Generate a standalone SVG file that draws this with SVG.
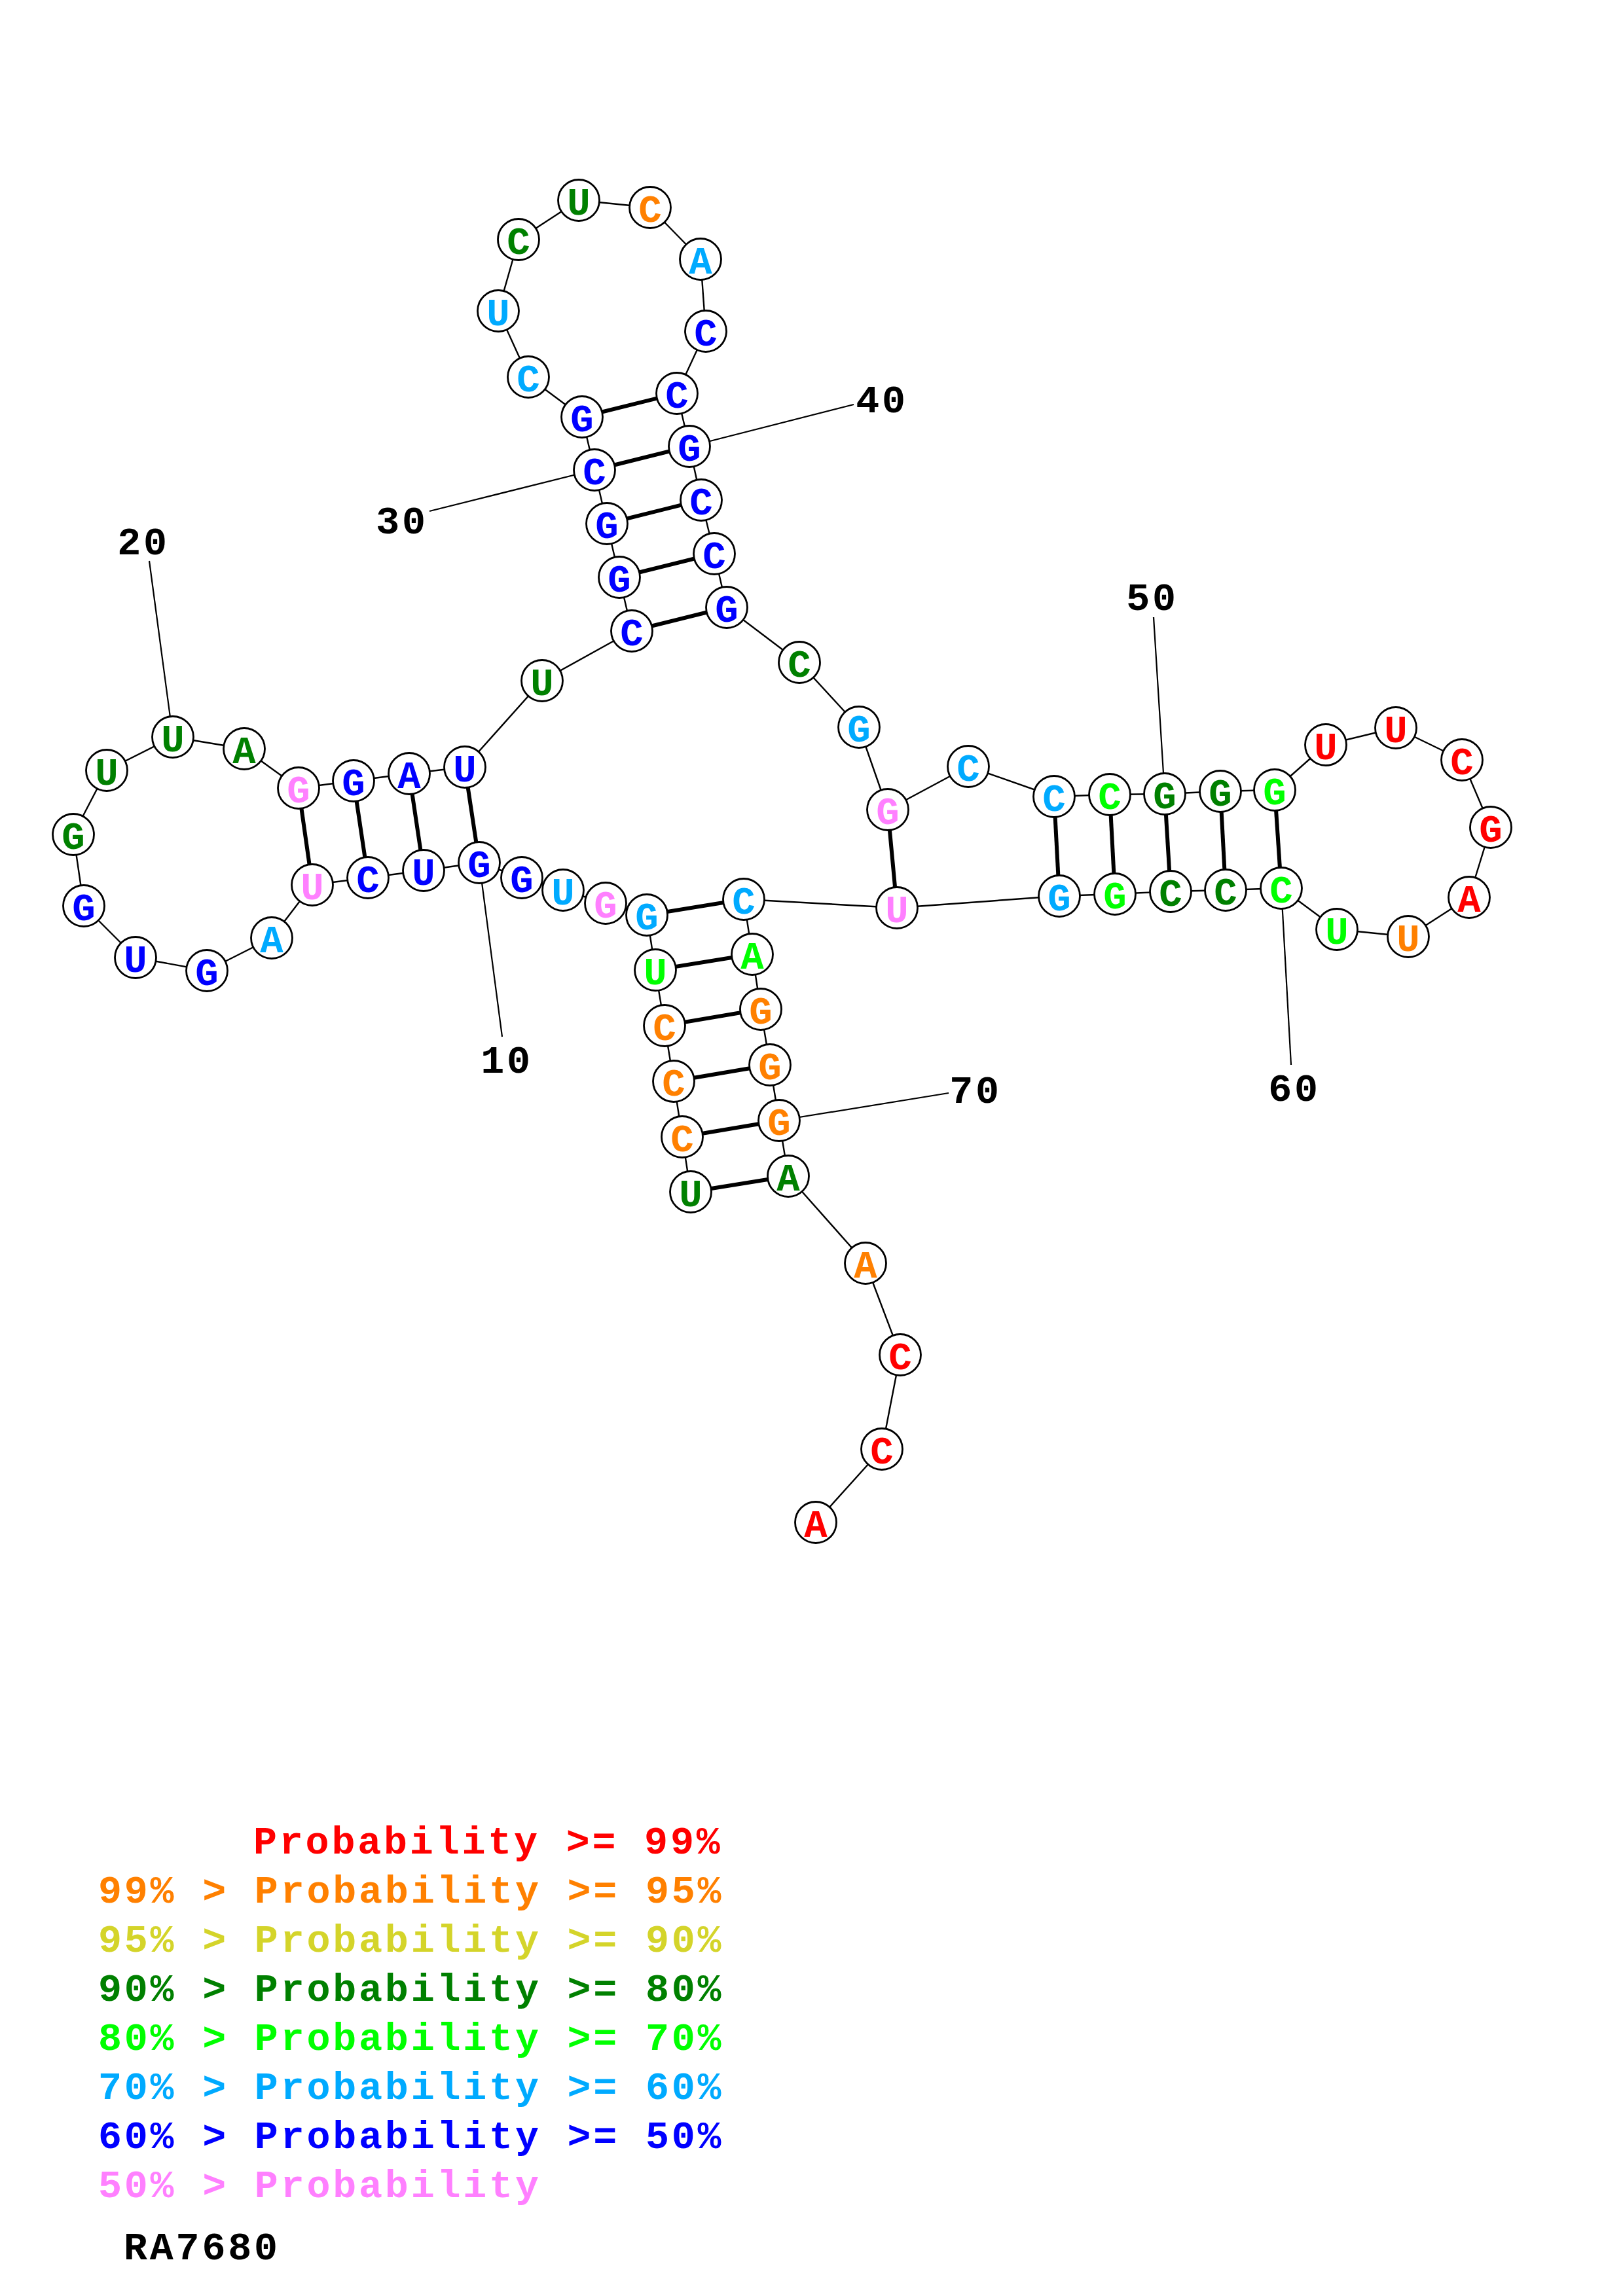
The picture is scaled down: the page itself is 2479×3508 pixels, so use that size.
<svg xmlns="http://www.w3.org/2000/svg" width="2479" height="3508" viewBox="0 0 2479 3508">
<style>
.bb{stroke:#000;stroke-width:2.4}
.bp{stroke:#000;stroke-width:6}
.tk{stroke:#000;stroke-width:2.2}
circle{fill:#fff;stroke:#000;stroke-width:2.8}
text{font-family:"Liberation Mono","DejaVu Sans Mono",monospace;font-weight:bold}
.n text{font-size:59px;text-anchor:middle}
.num{font-size:60px;letter-spacing:3.8px;text-anchor:middle;fill:#000}
.lg{font-size:60px;letter-spacing:3.8px}
.r{fill:#ff0000}.o{fill:#ff8000}.y{fill:#d4d42a}.dg{fill:#008000}.g{fill:#00ff00}.s{fill:#00aaff}.bl{fill:#0000ff}.p{fill:#ff80ff}
</style>
<rect width="2479" height="3508" fill="#fff"/>
<g id="connectors">
<line class="bb" x1="1055" y1="1821" x2="1042" y2="1737"/>
<line class="bb" x1="1042" y1="1737" x2="1029" y2="1652"/>
<line class="bb" x1="1029" y1="1652" x2="1015" y2="1567"/>
<line class="bb" x1="1015" y1="1567" x2="1001" y2="1482"/>
<line class="bb" x1="1001" y1="1482" x2="988" y2="1398"/>
<line class="bb" x1="988" y1="1398" x2="925" y2="1380"/>
<line class="bb" x1="925" y1="1380" x2="860" y2="1360"/>
<line class="bb" x1="860" y1="1360" x2="797" y2="1341"/>
<line class="bb" x1="797" y1="1341" x2="732" y2="1318"/>
<line class="bb" x1="732" y1="1318" x2="647" y2="1330"/>
<line class="bb" x1="647" y1="1330" x2="562" y2="1341"/>
<line class="bb" x1="562" y1="1341" x2="477" y2="1352"/>
<line class="bb" x1="477" y1="1352" x2="415" y2="1433"/>
<line class="bb" x1="415" y1="1433" x2="316" y2="1483"/>
<line class="bb" x1="316" y1="1483" x2="207" y2="1463"/>
<line class="bb" x1="207" y1="1463" x2="128" y2="1384"/>
<line class="bb" x1="128" y1="1384" x2="112" y2="1275"/>
<line class="bb" x1="112" y1="1275" x2="163" y2="1177"/>
<line class="bb" x1="163" y1="1177" x2="264" y2="1126"/>
<line class="bb" x1="264" y1="1126" x2="373" y2="1144"/>
<line class="bb" x1="373" y1="1144" x2="456" y2="1204"/>
<line class="bb" x1="456" y1="1204" x2="540" y2="1193"/>
<line class="bb" x1="540" y1="1193" x2="625" y2="1182"/>
<line class="bb" x1="625" y1="1182" x2="710" y2="1172"/>
<line class="bb" x1="710" y1="1172" x2="828" y2="1040"/>
<line class="bb" x1="828" y1="1040" x2="965" y2="964"/>
<line class="bb" x1="965" y1="964" x2="946" y2="882"/>
<line class="bb" x1="946" y1="882" x2="927" y2="800"/>
<line class="bb" x1="927" y1="800" x2="908" y2="718"/>
<line class="bb" x1="908" y1="718" x2="889" y2="637"/>
<line class="bb" x1="889" y1="637" x2="807" y2="576"/>
<line class="bb" x1="807" y1="576" x2="761" y2="475"/>
<line class="bb" x1="761" y1="475" x2="792" y2="366"/>
<line class="bb" x1="792" y1="366" x2="884" y2="306"/>
<line class="bb" x1="884" y1="306" x2="993" y2="317"/>
<line class="bb" x1="993" y1="317" x2="1070" y2="396"/>
<line class="bb" x1="1070" y1="396" x2="1078" y2="506"/>
<line class="bb" x1="1078" y1="506" x2="1034" y2="601"/>
<line class="bb" x1="1034" y1="601" x2="1053" y2="682"/>
<line class="bb" x1="1053" y1="682" x2="1071" y2="764"/>
<line class="bb" x1="1071" y1="764" x2="1091" y2="846"/>
<line class="bb" x1="1091" y1="846" x2="1110" y2="928"/>
<line class="bb" x1="1110" y1="928" x2="1221" y2="1012"/>
<line class="bb" x1="1221" y1="1012" x2="1312" y2="1111"/>
<line class="bb" x1="1312" y1="1111" x2="1356" y2="1237"/>
<line class="bb" x1="1356" y1="1237" x2="1479" y2="1171"/>
<line class="bb" x1="1479" y1="1171" x2="1610" y2="1217"/>
<line class="bb" x1="1610" y1="1217" x2="1695" y2="1214"/>
<line class="bb" x1="1695" y1="1214" x2="1779" y2="1213"/>
<line class="bb" x1="1779" y1="1213" x2="1864" y2="1209"/>
<line class="bb" x1="1864" y1="1209" x2="1947" y2="1207"/>
<line class="bb" x1="1947" y1="1207" x2="2025" y2="1138"/>
<line class="bb" x1="2025" y1="1138" x2="2132" y2="1112"/>
<line class="bb" x1="2132" y1="1112" x2="2233" y2="1161"/>
<line class="bb" x1="2233" y1="1161" x2="2277" y2="1264"/>
<line class="bb" x1="2277" y1="1264" x2="2244" y2="1371"/>
<line class="bb" x1="2244" y1="1371" x2="2151" y2="1431"/>
<line class="bb" x1="2151" y1="1431" x2="2042" y2="1420"/>
<line class="bb" x1="2042" y1="1420" x2="1957" y2="1357"/>
<line class="bb" x1="1957" y1="1357" x2="1872" y2="1360"/>
<line class="bb" x1="1872" y1="1360" x2="1788" y2="1362"/>
<line class="bb" x1="1788" y1="1362" x2="1703" y2="1366"/>
<line class="bb" x1="1703" y1="1366" x2="1618" y2="1369"/>
<line class="bb" x1="1618" y1="1369" x2="1370" y2="1387"/>
<line class="bb" x1="1370" y1="1387" x2="1136" y2="1374"/>
<line class="bb" x1="1136" y1="1374" x2="1149" y2="1458"/>
<line class="bb" x1="1149" y1="1458" x2="1162" y2="1542"/>
<line class="bb" x1="1162" y1="1542" x2="1176" y2="1627"/>
<line class="bb" x1="1176" y1="1627" x2="1190" y2="1712"/>
<line class="bb" x1="1190" y1="1712" x2="1204" y2="1797"/>
<line class="bb" x1="1204" y1="1797" x2="1322" y2="1930"/>
<line class="bb" x1="1322" y1="1930" x2="1375" y2="2070"/>
<line class="bb" x1="1375" y1="2070" x2="1347" y2="2214"/>
<line class="bb" x1="1347" y1="2214" x2="1246" y2="2326"/>
<line class="bp" x1="1055" y1="1821" x2="1204" y2="1797"/>
<line class="bp" x1="1042" y1="1737" x2="1190" y2="1712"/>
<line class="bp" x1="1029" y1="1652" x2="1176" y2="1627"/>
<line class="bp" x1="1015" y1="1567" x2="1162" y2="1542"/>
<line class="bp" x1="1001" y1="1482" x2="1149" y2="1458"/>
<line class="bp" x1="988" y1="1398" x2="1136" y2="1374"/>
<line class="bp" x1="732" y1="1318" x2="710" y2="1172"/>
<line class="bp" x1="647" y1="1330" x2="625" y2="1182"/>
<line class="bp" x1="562" y1="1341" x2="540" y2="1193"/>
<line class="bp" x1="477" y1="1352" x2="456" y2="1204"/>
<line class="bp" x1="965" y1="964" x2="1110" y2="928"/>
<line class="bp" x1="946" y1="882" x2="1091" y2="846"/>
<line class="bp" x1="927" y1="800" x2="1071" y2="764"/>
<line class="bp" x1="908" y1="718" x2="1053" y2="682"/>
<line class="bp" x1="889" y1="637" x2="1034" y2="601"/>
<line class="bp" x1="1356" y1="1237" x2="1370" y2="1387"/>
<line class="bp" x1="1610" y1="1217" x2="1618" y2="1369"/>
<line class="bp" x1="1695" y1="1214" x2="1703" y2="1366"/>
<line class="bp" x1="1779" y1="1213" x2="1788" y2="1362"/>
<line class="bp" x1="1864" y1="1209" x2="1872" y2="1360"/>
<line class="bp" x1="1947" y1="1207" x2="1957" y2="1357"/>
<line class="tk" x1="732" y1="1318" x2="767" y2="1584"/>
<line class="tk" x1="228" y1="857" x2="264" y2="1126"/>
<line class="tk" x1="656" y1="781" x2="908" y2="718"/>
<line class="tk" x1="1053" y1="682" x2="1304" y2="618"/>
<line class="tk" x1="1762" y1="943" x2="1779" y2="1213"/>
<line class="tk" x1="1957" y1="1357" x2="1972" y2="1627"/>
<line class="tk" x1="1190" y1="1712" x2="1449" y2="1670"/>
</g>
<g class="n">
<g id="n1"><circle cx="1055" cy="1821" r="31.5"/><text x="1055" y="1843" class="dg">U</text></g>
<g id="n2"><circle cx="1042" cy="1737" r="31.5"/><text x="1042" y="1759" class="o">C</text></g>
<g id="n3"><circle cx="1029" cy="1652" r="31.5"/><text x="1029" y="1674" class="o">C</text></g>
<g id="n4"><circle cx="1015" cy="1567" r="31.5"/><text x="1015" y="1589" class="o">C</text></g>
<g id="n5"><circle cx="1001" cy="1482" r="31.5"/><text x="1001" y="1504" class="g">U</text></g>
<g id="n6"><circle cx="988" cy="1398" r="31.5"/><text x="988" y="1420" class="s">G</text></g>
<g id="n7"><circle cx="925" cy="1380" r="31.5"/><text x="925" y="1402" class="p">G</text></g>
<g id="n8"><circle cx="860" cy="1360" r="31.5"/><text x="860" y="1382" class="s">U</text></g>
<g id="n9"><circle cx="797" cy="1341" r="31.5"/><text x="797" y="1363" class="bl">G</text></g>
<g id="n10"><circle cx="732" cy="1318" r="31.5"/><text x="732" y="1340" class="bl">G</text></g>
<g id="n11"><circle cx="647" cy="1330" r="31.5"/><text x="647" y="1352" class="bl">U</text></g>
<g id="n12"><circle cx="562" cy="1341" r="31.5"/><text x="562" y="1363" class="bl">C</text></g>
<g id="n13"><circle cx="477" cy="1352" r="31.5"/><text x="477" y="1374" class="p">U</text></g>
<g id="n14"><circle cx="415" cy="1433" r="31.5"/><text x="415" y="1455" class="s">A</text></g>
<g id="n15"><circle cx="316" cy="1483" r="31.5"/><text x="316" y="1505" class="bl">G</text></g>
<g id="n16"><circle cx="207" cy="1463" r="31.5"/><text x="207" y="1485" class="bl">U</text></g>
<g id="n17"><circle cx="128" cy="1384" r="31.5"/><text x="128" y="1406" class="bl">G</text></g>
<g id="n18"><circle cx="112" cy="1275" r="31.5"/><text x="112" y="1297" class="dg">G</text></g>
<g id="n19"><circle cx="163" cy="1177" r="31.5"/><text x="163" y="1199" class="dg">U</text></g>
<g id="n20"><circle cx="264" cy="1126" r="31.5"/><text x="264" y="1148" class="dg">U</text></g>
<g id="n21"><circle cx="373" cy="1144" r="31.5"/><text x="373" y="1166" class="dg">A</text></g>
<g id="n22"><circle cx="456" cy="1204" r="31.5"/><text x="456" y="1226" class="p">G</text></g>
<g id="n23"><circle cx="540" cy="1193" r="31.5"/><text x="540" y="1215" class="bl">G</text></g>
<g id="n24"><circle cx="625" cy="1182" r="31.5"/><text x="625" y="1204" class="bl">A</text></g>
<g id="n25"><circle cx="710" cy="1172" r="31.5"/><text x="710" y="1194" class="bl">U</text></g>
<g id="n26"><circle cx="828" cy="1040" r="31.5"/><text x="828" y="1062" class="dg">U</text></g>
<g id="n27"><circle cx="965" cy="964" r="31.5"/><text x="965" y="986" class="bl">C</text></g>
<g id="n28"><circle cx="946" cy="882" r="31.5"/><text x="946" y="904" class="bl">G</text></g>
<g id="n29"><circle cx="927" cy="800" r="31.5"/><text x="927" y="822" class="bl">G</text></g>
<g id="n30"><circle cx="908" cy="718" r="31.5"/><text x="908" y="740" class="bl">C</text></g>
<g id="n31"><circle cx="889" cy="637" r="31.5"/><text x="889" y="659" class="bl">G</text></g>
<g id="n32"><circle cx="807" cy="576" r="31.5"/><text x="807" y="598" class="s">C</text></g>
<g id="n33"><circle cx="761" cy="475" r="31.5"/><text x="761" y="497" class="s">U</text></g>
<g id="n34"><circle cx="792" cy="366" r="31.5"/><text x="792" y="388" class="dg">C</text></g>
<g id="n35"><circle cx="884" cy="306" r="31.5"/><text x="884" y="328" class="dg">U</text></g>
<g id="n36"><circle cx="993" cy="317" r="31.5"/><text x="993" y="339" class="o">C</text></g>
<g id="n37"><circle cx="1070" cy="396" r="31.5"/><text x="1070" y="418" class="s">A</text></g>
<g id="n38"><circle cx="1078" cy="506" r="31.5"/><text x="1078" y="528" class="bl">C</text></g>
<g id="n39"><circle cx="1034" cy="601" r="31.5"/><text x="1034" y="623" class="bl">C</text></g>
<g id="n40"><circle cx="1053" cy="682" r="31.5"/><text x="1053" y="704" class="bl">G</text></g>
<g id="n41"><circle cx="1071" cy="764" r="31.5"/><text x="1071" y="786" class="bl">C</text></g>
<g id="n42"><circle cx="1091" cy="846" r="31.5"/><text x="1091" y="868" class="bl">C</text></g>
<g id="n43"><circle cx="1110" cy="928" r="31.5"/><text x="1110" y="950" class="bl">G</text></g>
<g id="n44"><circle cx="1221" cy="1012" r="31.5"/><text x="1221" y="1034" class="dg">C</text></g>
<g id="n45"><circle cx="1312" cy="1111" r="31.5"/><text x="1312" y="1133" class="s">G</text></g>
<g id="n46"><circle cx="1356" cy="1237" r="31.5"/><text x="1356" y="1259" class="p">G</text></g>
<g id="n47"><circle cx="1479" cy="1171" r="31.5"/><text x="1479" y="1193" class="s">C</text></g>
<g id="n48"><circle cx="1610" cy="1217" r="31.5"/><text x="1610" y="1239" class="s">C</text></g>
<g id="n49"><circle cx="1695" cy="1214" r="31.5"/><text x="1695" y="1236" class="g">C</text></g>
<g id="n50"><circle cx="1779" cy="1213" r="31.5"/><text x="1779" y="1235" class="dg">G</text></g>
<g id="n51"><circle cx="1864" cy="1209" r="31.5"/><text x="1864" y="1231" class="dg">G</text></g>
<g id="n52"><circle cx="1947" cy="1207" r="31.5"/><text x="1947" y="1229" class="g">G</text></g>
<g id="n53"><circle cx="2025" cy="1138" r="31.5"/><text x="2025" y="1160" class="r">U</text></g>
<g id="n54"><circle cx="2132" cy="1112" r="31.5"/><text x="2132" y="1134" class="r">U</text></g>
<g id="n55"><circle cx="2233" cy="1161" r="31.5"/><text x="2233" y="1183" class="r">C</text></g>
<g id="n56"><circle cx="2277" cy="1264" r="31.5"/><text x="2277" y="1286" class="r">G</text></g>
<g id="n57"><circle cx="2244" cy="1371" r="31.5"/><text x="2244" y="1393" class="r">A</text></g>
<g id="n58"><circle cx="2151" cy="1431" r="31.5"/><text x="2151" y="1453" class="o">U</text></g>
<g id="n59"><circle cx="2042" cy="1420" r="31.5"/><text x="2042" y="1442" class="g">U</text></g>
<g id="n60"><circle cx="1957" cy="1357" r="31.5"/><text x="1957" y="1379" class="g">C</text></g>
<g id="n61"><circle cx="1872" cy="1360" r="31.5"/><text x="1872" y="1382" class="dg">C</text></g>
<g id="n62"><circle cx="1788" cy="1362" r="31.5"/><text x="1788" y="1384" class="dg">C</text></g>
<g id="n63"><circle cx="1703" cy="1366" r="31.5"/><text x="1703" y="1388" class="g">G</text></g>
<g id="n64"><circle cx="1618" cy="1369" r="31.5"/><text x="1618" y="1391" class="s">G</text></g>
<g id="n65"><circle cx="1370" cy="1387" r="31.5"/><text x="1370" y="1409" class="p">U</text></g>
<g id="n66"><circle cx="1136" cy="1374" r="31.5"/><text x="1136" y="1396" class="s">C</text></g>
<g id="n67"><circle cx="1149" cy="1458" r="31.5"/><text x="1149" y="1480" class="g">A</text></g>
<g id="n68"><circle cx="1162" cy="1542" r="31.5"/><text x="1162" y="1564" class="o">G</text></g>
<g id="n69"><circle cx="1176" cy="1627" r="31.5"/><text x="1176" y="1649" class="o">G</text></g>
<g id="n70"><circle cx="1190" cy="1712" r="31.5"/><text x="1190" y="1734" class="o">G</text></g>
<g id="n71"><circle cx="1204" cy="1797" r="31.5"/><text x="1204" y="1819" class="dg">A</text></g>
<g id="n72"><circle cx="1322" cy="1930" r="31.5"/><text x="1322" y="1952" class="o">A</text></g>
<g id="n73"><circle cx="1375" cy="2070" r="31.5"/><text x="1375" y="2092" class="r">C</text></g>
<g id="n74"><circle cx="1347" cy="2214" r="31.5"/><text x="1347" y="2236" class="r">C</text></g>
<g id="n75"><circle cx="1246" cy="2326" r="31.5"/><text x="1246" y="2348" class="r">A</text></g>
</g>
<g id="numbers">
<text class="num" x="774" y="1639">10</text>
<text class="num" x="219" y="847">20</text>
<text class="num" x="614" y="815">30</text>
<text class="num" x="1347" y="630">40</text>
<text class="num" x="1760" y="932">50</text>
<text class="num" x="1977" y="1682">60</text>
<text class="num" x="1490" y="1685">70</text>
</g>
<g id="legend" class="lg">
<text x="387" y="2832" class="r">Probability &gt;= 99%</text>
<text x="150" y="2907" class="o">99% &gt; Probability &gt;= 95%</text>
<text x="150" y="2982" class="y">95% &gt; Probability &gt;= 90%</text>
<text x="150" y="3057" class="dg">90% &gt; Probability &gt;= 80%</text>
<text x="150" y="3132" class="g">80% &gt; Probability &gt;= 70%</text>
<text x="150" y="3207" class="s">70% &gt; Probability &gt;= 60%</text>
<text x="150" y="3282" class="bl">60% &gt; Probability &gt;= 50%</text>
<text x="150" y="3357" class="p">50% &gt; Probability</text>
<text x="189" y="3452" fill="#000">RA7680</text>
</g>
</svg>
